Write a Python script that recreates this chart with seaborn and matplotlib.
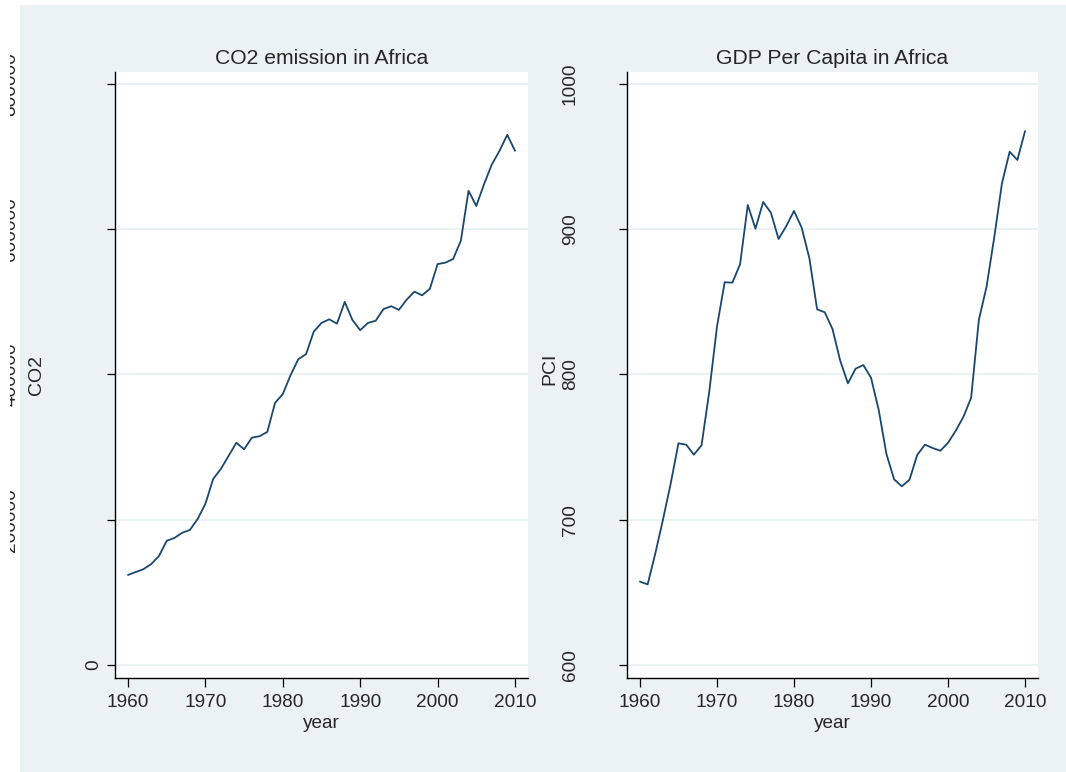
import matplotlib
matplotlib.use("Agg")
import matplotlib.pyplot as plt
import matplotlib.transforms as mtransforms
from matplotlib.patches import Rectangle
import pandas as pd
import seaborn as sns

# Annual series for Africa, 1960-2010
years = list(range(1960, 2011))
co2 = [124000, 128000, 132000, 139000, 150000, 171000, 175000, 182000, 186000, 201000,
       222000, 256000, 270000, 288000, 306000, 297000, 313000, 315000, 321000, 361000,
       373000, 399000, 421000, 428000, 459000, 471000, 476000, 470000, 500000, 475000,
       461000, 471000, 474000, 490000, 494000, 489000, 503000, 514000, 509000, 518000,
       552000, 554000, 559000, 584000, 653000, 632000, 662000, 689000, 708000, 730000,
       708000]
pci = [657.4, 655.5, 676.9, 700.3, 725.1, 752.6, 751.7, 744.8, 751.3, 788.2,
       832.9, 863.5, 863.2, 875.9, 916.7, 900.4, 918.8, 911.4, 893.3, 902.2,
       912.6, 901.1, 880.0, 844.9, 842.8, 831.3, 809.5, 793.9, 804.0, 806.5,
       797.8, 775.6, 745.3, 727.8, 723.0, 727.6, 744.6, 751.7, 749.4, 747.5,
       753.0, 761.3, 770.9, 784.0, 837.5, 860.4, 894.5, 931.6, 953.4, 947.7,
       967.6]

year_ticks = [1960, 1970, 1980, 1990, 2000, 2010]
co2_ticks = [0, 200000, 400000, 600000, 800000]
co2_ticklabels = ["0", "200000", "400000", "600000", "800000"]
pci_ticks = [600, 700, 800, 900, 1000]
pci_ticklabels = ["600", "700", "800", "900", "1000"]

titles = ["CO2 emission in Africa", "GDP Per Capita in Africa"]
ylabels = ["CO2", "PCI"]
xlabel = "year"

df = pd.DataFrame({"year": years, "CO2": co2, "PCI": pci})

sns.set_style("white")
plt.rcParams["font.family"] = ["Liberation Sans", "DejaVu Sans"]

NAVY = "#1A476F"
BG = "#EAF2F3"
GRID = "#EAF1F3"
W, H = 1066, 772

fig = plt.figure(figsize=(W / 100, H / 100), dpi=100, facecolor="white")


def px_rect(x0, y0, x1, y1):
    return [x0 / W, 1 - y1 / H, (x1 - x0) / W, (y1 - y0) / H]


# graph region background
fig.add_artist(Rectangle((20 / W, 0), 1 - 20 / W, 1 - 5 / H,
                         transform=fig.transFigure, facecolor=BG,
                         edgecolor="none", zorder=-5))

ax1 = fig.add_axes(px_rect(115, 72, 528, 678))
ax2 = fig.add_axes(px_rect(627, 72, 1038, 678))

panels = [
    (ax1, "CO2", co2_ticks, (-17900, 816500), titles[0], ylabels[0], 3.6),
    (ax2, "PCI", pci_ticks, (591.05, 1008.26), titles[1], ylabels[1], 28.8),
]

for ax, col, yt, ylim, title, ylab, ypad in panels:
    ax.set_facecolor("white")
    sns.lineplot(data=df, x="year", y=col, ax=ax, color=NAVY, linewidth=1.3)
    ax.set_xlim(1958.32, 2011.68)
    ax.set_ylim(*ylim)
    ax.set_xticks(year_ticks)
    ax.set_yticks(yt)
    for s in ("top", "right"):
        ax.spines[s].set_visible(False)
    for s in ("left", "bottom"):
        ax.spines[s].set_color("black")
        ax.spines[s].set_linewidth(1.0)
    ax.grid(axis="y", color=GRID, linewidth=1.4)
    ax.grid(axis="x", visible=False)
    ax.set_axisbelow(True)
    ax.tick_params(axis="x", direction="out", length=6.5, width=0.9,
                   color="black", labelsize=13.7, pad=4.8, bottom=True)
    ax.tick_params(axis="y", direction="out", length=5.8, width=0.9,
                   color="black", labelsize=13.7, pad=ypad, left=True)
    ax.set_title(title, fontsize=15.2, pad=5.5)
    ax.set_xlabel(xlabel, fontsize=13.7)
    ax.xaxis.set_label_coords(0.5, -0.061)
    ax.set_ylabel(ylab, fontsize=14)

ax1.yaxis.set_label_coords((45 - 115) / 413, 0.5)
ax2.yaxis.set_label_coords((558 - 627) / 411, 0.51)

# left panel: only the zero label sits beside the axis
ax1.set_yticklabels(["0", "", "", "", ""], rotation=90, va="center")
ax2.set_yticklabels(pci_ticklabels, rotation=90, va="center")

# the remaining CO2 labels are pushed against the left edge and cut off
clip = mtransforms.TransformedBbox(
    mtransforms.Bbox([[10 / W, 0], [1, 1]]), fig.transFigure)
blend = mtransforms.blended_transform_factory(fig.transFigure, ax1.transData)
for v, lab in zip(co2_ticks[1:], co2_ticklabels[1:]):
    t = fig.text(19.5 / W, v, lab, transform=blend, rotation=90,
                 ha="right", va="center", fontsize=13.7)
    t.set_clip_on(True)
    t.set_clip_box(clip)

fig.savefig("out.png", dpi=100, facecolor="white")
